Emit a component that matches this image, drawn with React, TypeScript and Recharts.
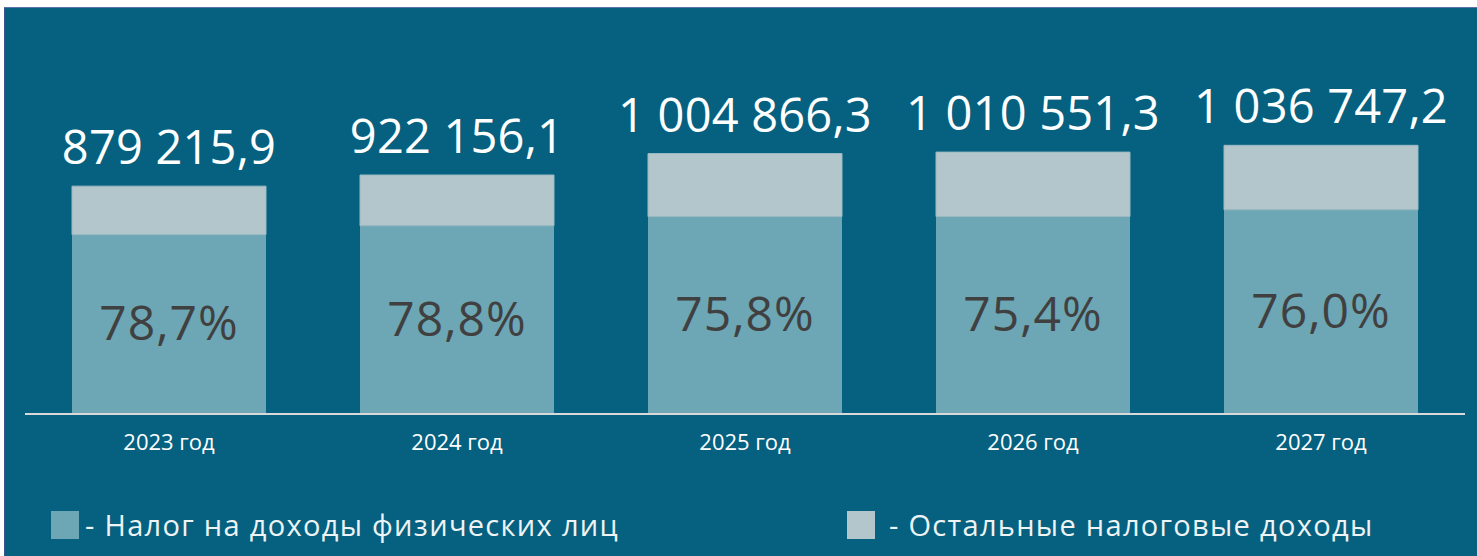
import { BarChart, Bar, XAxis, YAxis, LabelList } from 'recharts'

const years = ['2023 год', '2024 год', '2025 год', '2026 год', '2027 год']
const totals = [879215.9, 922156.1, 1004866.3, 1010551.3, 1036747.2]
const ndflShare = ['78,7%', '78,8%', '75,8%', '75,4%', '76,0%']
const ndfl = [691942.9, 726659.0, 761688.7, 761955.7, 787927.9]
const otherTaxes = [187273.0, 195497.1, 243177.6, 248595.6, 248819.3]

const data = years.map((year, i) => ({
  year,
  ndfl: ndfl[i],
  other: otherTaxes[i],
  total: totals[i],
  share: ndflShare[i],
}))

const font = '"Open Sans", sans-serif'
const bg = '#05617f'

const formatTotal = (v: number) =>
  v
    .toFixed(1)
    .replace('.', ',')
    .replace(/\B(?=(\d{3})+(?!\d))/g, ' ')

const TotalLabel = (props: any) => {
  const { x, y, width, index } = props
  return (
    <text
      x={x + width / 2}
      y={y - 22}
      textAnchor="middle"
      fill="#ffffff"
      fontSize={47}
      fontFamily={font}
      letterSpacing={0.2}
    >
      {formatTotal(totals[index])}
    </text>
  )
}

const ShareLabel = (props: any) => {
  const { x, y, width, height, index } = props
  return (
    <text
      x={x + width / 2}
      y={y + height / 2}
      dy={16}
      textAnchor="middle"
      fill="#404040"
      fontSize={48}
      fontFamily={font}
      letterSpacing={1}
    >
      {ndflShare[index]}
    </text>
  )
}

const legendStyle = {
  position: 'absolute' as const,
  top: 497,
  display: 'flex',
  alignItems: 'center',
  color: '#eef3f5',
  fontSize: 29,
  letterSpacing: 1.3,
  whiteSpace: 'nowrap' as const,
}

export default function App() {
  return (
    <div
      style={{
        position: 'absolute',
        left: 4,
        top: 7,
        width: 1473,
        height: 549,
        background: bg,
        borderTop: '1px solid #5a74a8',
        borderLeft: '1px solid #3c5590',
        boxSizing: 'border-box',
        fontFamily: font,
      }}
    >
      <BarChart
        width={1472}
        height={466}
        data={data}
        margin={{ top: 95, right: 12, left: 20, bottom: 0 }}
        barCategoryGap={47}
      >
        <XAxis
          dataKey="year"
          height={60}
          axisLine={{ stroke: '#d9d9d9', strokeWidth: 2 }}
          tickLine={false}
          tickMargin={14}
          tick={{ fill: '#ffffff', fontSize: 22, fontFamily: font }}
        />
        <YAxis hide domain={[0, 1200000]} />
        <Bar dataKey="ndfl" stackId="a" fill="#6da6b4" isAnimationActive={false}>
          <LabelList dataKey="share" content={ShareLabel} />
        </Bar>
        <Bar
          dataKey="other"
          stackId="a"
          fill="#b3c6cc"
          stroke="#9bbac3"
          strokeWidth={1}
          isAnimationActive={false}
        >
          <LabelList dataKey="total" content={TotalLabel} />
        </Bar>
      </BarChart>
      <div style={{ ...legendStyle, left: 46 }}>
        <span style={{ width: 28, height: 28, background: '#6da6b4', marginRight: 6 }} />
        - Налог на доходы физических лиц
      </div>
      <div style={{ ...legendStyle, left: 842 }}>
        <span style={{ width: 28, height: 28, background: '#b3c6cc', marginRight: 14 }} />
        - Остальные налоговые доходы
      </div>
    </div>
  )
}
